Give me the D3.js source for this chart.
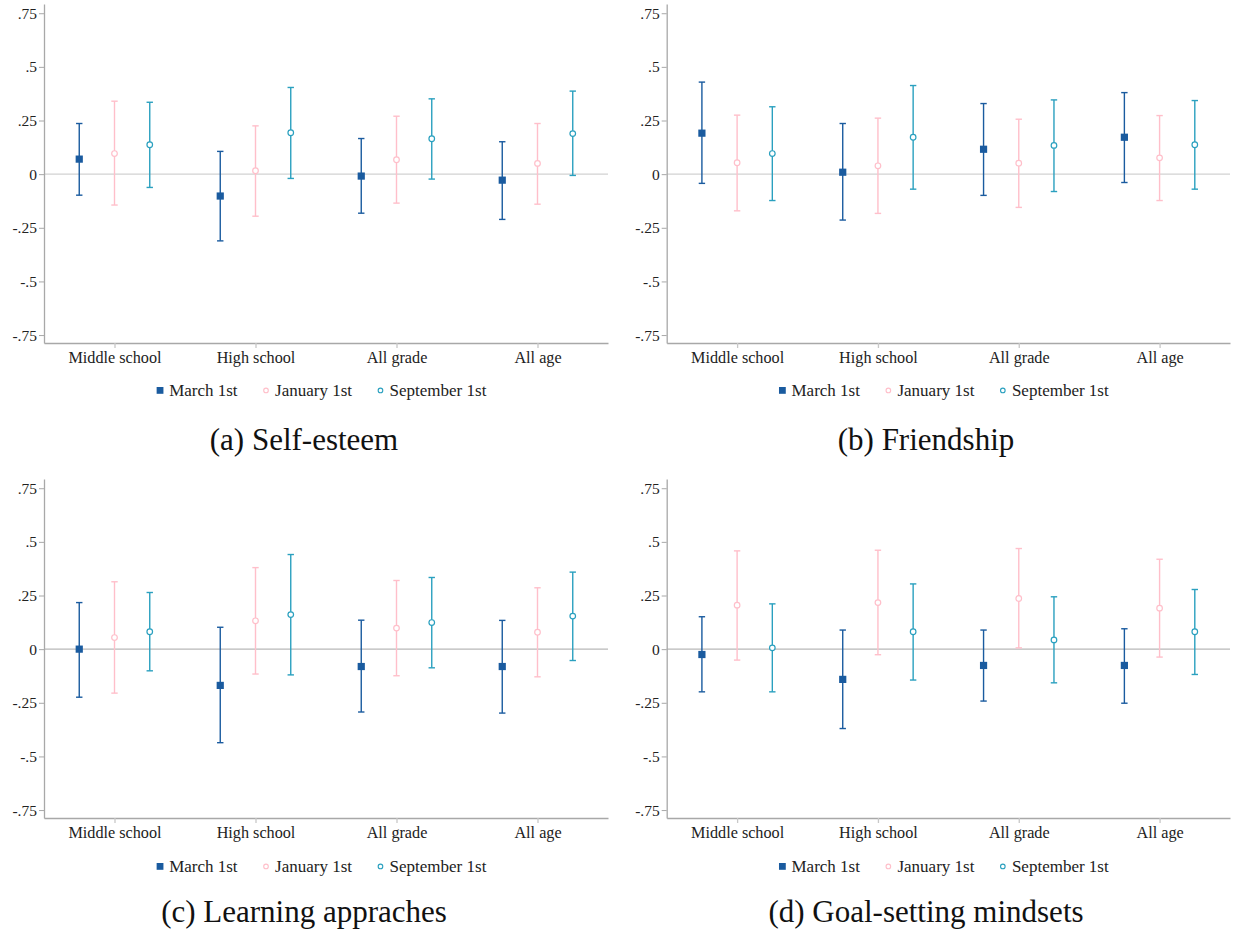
<!DOCTYPE html>
<html>
<head>
<meta charset="utf-8">
<script src="https://cdn.jsdelivr.net/npm/d3@7"></script>
<style>
  body { margin: 0; background: #fff; }
  svg { display: block; }
</style>
</head>
<body>
<div id="chart"></div>
<script>
// ---- data ----
var categories = ["Middle school", "High school", "All grade", "All age"];
var seriesNames = ["March 1st", "January 1st", "September 1st"];
var yTicks = [-0.75, -0.5, -0.25, 0, 0.25, 0.5, 0.75];

// each array: [March, January, September] x categories
var selfEsteemEst = [[0.070, -0.102, -0.009, -0.028], [0.096, 0.016, 0.067, 0.050], [0.137, 0.193, 0.165, 0.189]];
var selfEsteemLo  = [[-0.098, -0.311, -0.182, -0.211], [-0.144, -0.196, -0.135, -0.140], [-0.062, -0.020, -0.023, -0.006]];
var selfEsteemHi  = [[0.236, 0.106, 0.166, 0.151], [0.340, 0.225, 0.270, 0.236], [0.335, 0.404, 0.351, 0.387]];

var friendshipEst = [[0.191, 0.009, 0.116, 0.172], [0.053, 0.039, 0.051, 0.076], [0.096, 0.172, 0.134, 0.137]];
var friendshipLo  = [[-0.043, -0.214, -0.099, -0.039], [-0.171, -0.183, -0.155, -0.123], [-0.123, -0.070, -0.081, -0.070]];
var friendshipHi  = [[0.429, 0.236, 0.329, 0.380], [0.275, 0.261, 0.256, 0.273], [0.314, 0.413, 0.346, 0.343]];

var learningEst = [[0.000, -0.169, -0.081, -0.081], [0.054, 0.132, 0.098, 0.079], [0.081, 0.161, 0.124, 0.154]];
var learningLo  = [[-0.224, -0.436, -0.293, -0.298], [-0.205, -0.116, -0.124, -0.129], [-0.101, -0.120, -0.087, -0.053]];
var learningHi  = [[0.217, 0.102, 0.135, 0.134], [0.314, 0.380, 0.320, 0.286], [0.264, 0.441, 0.334, 0.359]];

var goalEst = [[-0.025, -0.141, -0.076, -0.076], [0.205, 0.217, 0.236, 0.191], [0.006, 0.081, 0.043, 0.081]];
var goalLo  = [[-0.199, -0.370, -0.242, -0.252], [-0.051, -0.026, 0.006, -0.037], [-0.199, -0.144, -0.157, -0.118]];
var goalHi  = [[0.151, 0.089, 0.089, 0.095], [0.458, 0.461, 0.469, 0.419], [0.211, 0.304, 0.244, 0.278]];

// ---- styling ----
var colors = ["#1a5b9f", "#ffbfca", "#2aa0bf"];
var offsets = [-0.25, 0, 0.25];
var font = "'Liberation Serif', 'Times New Roman', serif";

var W = 1235, H = 936;
var svg = d3.select("#chart").append("svg")
    .attr("width", W)
    .attr("height", H);

// panel layout
var panels = [
    { caption: "(a) Self-esteem", est: selfEsteemEst, lo: selfEsteemLo, hi: selfEsteemHi,
      x0: 44, x1: 608, top: 4, bottom: 343, capX: 304, labelY: 362.5, legendY: 395.5, captionY: 449.5, zero: "#d2d2d2" },
    { caption: "(b) Friendship", est: friendshipEst, lo: friendshipLo, hi: friendshipHi,
      x0: 666.7, x1: 1230, top: 4, bottom: 343, capX: 926, labelY: 362.5, legendY: 395.5, captionY: 449.5, zero: "#d2d2d2" },
    { caption: "(c) Learning appraches", est: learningEst, lo: learningLo, hi: learningHi,
      x0: 44, x1: 608, top: 479, bottom: 818, capX: 304, labelY: 838, legendY: 871.5, captionY: 921.5, zero: "#b8b8b8" },
    { caption: "(d) Goal-setting mindsets", est: goalEst, lo: goalLo, hi: goalHi,
      x0: 666.7, x1: 1230, top: 479, bottom: 818, capX: 926, labelY: 838, legendY: 871.5, captionY: 921.5, zero: "#b8b8b8" }
];

function drawPanel(p) {
    var g = svg.append("g");

    var xscale = d3.scaleLinear().domain([0.5, 4.5]).range([p.x0, p.x1]);
    var yscale = d3.scaleLinear().domain([-0.787, 0.793]).range([p.bottom, p.top]);

    // zero reference line
    g.append("line")
        .attr("x1", p.x0).attr("x2", p.x1)
        .attr("y1", yscale(0)).attr("y2", yscale(0))
        .attr("stroke", p.zero)
        .attr("stroke-width", 1.3);

    // y axis
    var yAxis = d3.axisLeft(yscale)
        .tickValues(yTicks)
        .tickSize(5)
        .tickSizeOuter(0)
        .tickPadding(2)
        .tickFormat(function (d) { return d === 0 ? "0" : String(d).replace("0.", "."); });
    var ya = g.append("g")
        .attr("transform", "translate(" + p.x0 + ",0)")
        .call(yAxis);
    ya.select(".domain").attr("stroke", "#a8a8a8").attr("stroke-width", 1.3);
    ya.selectAll(".tick line").attr("stroke", "#a8a8a8");
    ya.selectAll(".tick text")
        .attr("font-family", font)
        .attr("font-size", 15.5)
        .attr("fill", "#222");

    // x axis
    var xAxis = d3.axisBottom(xscale)
        .tickValues([1, 2, 3, 4])
        .tickSize(5)
        .tickSizeOuter(0)
        .tickFormat(function (d) { return categories[d - 1]; });
    var xa = g.append("g")
        .attr("transform", "translate(0," + p.bottom + ")")
        .call(xAxis);
    xa.select(".domain").attr("stroke", "#a8a8a8").attr("stroke-width", 1.3);
    xa.selectAll(".tick line").attr("stroke", "#c8c8c8").attr("stroke-width", 1.3);
    xa.selectAll(".tick text")
        .attr("font-family", font)
        .attr("font-size", 16.2)
        .attr("fill", "#222")
        .attr("dy", null)
        .attr("y", p.labelY - p.bottom);

    // error bars and markers
    seriesNames.forEach(function (name, s) {
        var rows = categories.map(function (c, i) {
            return { i: i + 1, est: p.est[s][i], lo: p.lo[s][i], hi: p.hi[s][i] };
        });
        var sg = g.append("g");
        var col = colors[s];
        var cx = function (d) { return xscale(d.i + offsets[s]); };

        sg.selectAll(".bar").data(rows).enter().append("line")
            .attr("x1", cx).attr("x2", cx)
            .attr("y1", function (d) { return yscale(d.lo); })
            .attr("y2", function (d) { return yscale(d.hi); })
            .attr("stroke", col).attr("stroke-width", 1.4);
        ["lo", "hi"].forEach(function (k) {
            sg.selectAll(".cap-" + k).data(rows).enter().append("line")
                .attr("x1", function (d) { return cx(d) - 3.2; })
                .attr("x2", function (d) { return cx(d) + 3.2; })
                .attr("y1", function (d) { return yscale(d[k]); })
                .attr("y2", function (d) { return yscale(d[k]); })
                .attr("stroke", col).attr("stroke-width", 1.4);
        });

        if (s === 0) {
            sg.selectAll(".pt").data(rows).enter().append("rect")
                .attr("x", function (d) { return cx(d) - 3.6; })
                .attr("y", function (d) { return yscale(d.est) - 3.6; })
                .attr("width", 7.2).attr("height", 7.2)
                .attr("fill", col);
        } else {
            sg.selectAll(".pt").data(rows).enter().append("circle")
                .attr("cx", cx)
                .attr("cy", function (d) { return yscale(d.est); })
                .attr("r", 2.8)
                .attr("fill", "#fff")
                .attr("stroke", col).attr("stroke-width", 1.2);
        }
    });

    // legend, laid out in a row then centred
    var lg = g.append("g");
    var pos = 0;
    seriesNames.forEach(function (name, s) {
        if (s === 0) {
            lg.append("rect")
                .attr("x", pos).attr("y", -8.5)
                .attr("width", 6.8).attr("height", 6.8)
                .attr("fill", colors[s]);
        } else {
            lg.append("circle")
                .attr("cx", pos + 3.4).attr("cy", -5.1)
                .attr("r", 2.3)
                .attr("fill", "none")
                .attr("stroke", colors[s]).attr("stroke-width", 1.1);
        }
        var t = lg.append("text")
            .attr("x", pos + 12.5)
            .attr("y", 0)
            .attr("font-family", font)
            .attr("font-size", 17)
            .attr("fill", "#222")
            .text(name);
        pos += 12.5 + t.node().getComputedTextLength() + 25;
    });
    var legendW = pos - 25;
    lg.attr("transform", "translate(" + ((p.x0 + p.x1) / 2 - 4.5 - legendW / 2) + "," + p.legendY + ")");

    // caption
    svg.append("text")
        .attr("x", p.capX)
        .attr("y", p.captionY)
        .attr("text-anchor", "middle")
        .attr("font-family", font)
        .attr("font-size", 31)
        .attr("fill", "#111")
        .text(p.caption);
}

panels.forEach(drawPanel);
</script>
</body>
</html>
